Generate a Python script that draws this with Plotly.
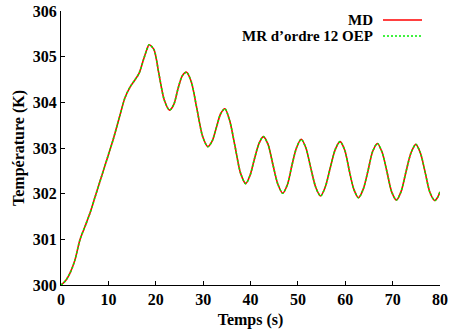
import plotly.graph_objects as go

# Data
temps = [0, 1, 1.9, 2.95, 4.0, 5.06, 6.1, 7.2, 8.2, 9.3, 10.3, 11.0, 12.4, 13.5, 14.6, 15.6, 16.5, 17.4, 18.1,
         18.6, 19.6, 20.7, 21.8, 22.9,
         23.8, 24.7, 25.6, 26.5,
         27.5, 28.7, 29.9, 31.0,
         31.9, 32.8, 33.7, 34.6,
         35.6, 36.8, 37.9, 39.0,
         39.9, 40.8, 41.8, 42.7,
         43.7, 44.7, 45.8, 46.8,
         47.8, 48.7, 49.7, 50.7,
         51.7, 52.7, 53.8, 54.8,
         55.8, 56.8, 57.9, 58.9,
         59.9, 60.8, 61.8, 62.8,
         63.8, 64.8, 65.8, 66.8,
         67.8, 68.8, 69.8, 70.8,
         71.8, 72.8, 73.9, 74.9,
         75.9, 76.9, 77.9, 78.9,
         79.5, 80]
temp_md = [300, 300.1, 300.26, 300.55, 300.99, 301.28, 301.57, 301.93, 302.26, 302.62, 302.95, 303.18, 303.7, 304.1, 304.34, 304.49, 304.64, 304.93, 305.15,
           305.26, 305.16, 304.6, 304.05, 303.83,
           303.95, 304.3, 304.58, 304.66,
           304.45, 303.85, 303.25, 303.03,
           303.15, 303.45, 303.75, 303.86,
           303.6, 303.0, 302.45, 302.22,
           302.4, 302.75, 303.1, 303.25,
           303.08, 302.65, 302.2, 302.01,
           302.2, 302.6, 303.0, 303.19,
           303.0, 302.57, 302.13, 301.95,
           302.15, 302.55, 302.97, 303.14,
           302.95, 302.53, 302.1, 301.91,
           302.1, 302.5, 302.93, 303.10,
           302.9, 302.48, 302.04, 301.86,
           302.05, 302.47, 302.9, 303.08,
           302.88, 302.45, 302.02, 301.85,
           301.92, 302.04]
temp_mr = list(temp_md)  # reduced model overlaps the reference curve

series_names = ["MD", "MR d\u2019ordre 12 OEP"]
x_ticks = [0, 10, 20, 30, 40, 50, 60, 70, 80]
y_ticks = [300, 301, 302, 303, 304, 305, 306]

FONT = dict(family="Liberation Serif", size=16, color="black", weight="bold")
LEG_FONT = dict(family="Liberation Serif", size=15, color="black", weight="bold")

fig = go.Figure()
fig.add_trace(go.Scatter(x=temps, y=temp_md, mode="lines", name=series_names[0],
                         line=dict(color="#ff0000", width=1.6, shape="spline", smoothing=0.8),
                         showlegend=False))
fig.add_trace(go.Scatter(x=temps, y=temp_mr, mode="lines", name=series_names[1],
                         line=dict(color="#00ee00", width=1.6, dash="2px,2px", shape="spline", smoothing=0.8),
                         showlegend=False))

# Legend drawn manually (text right-aligned, line sample to the right)
legend_y = [0.967, 0.909]
legend_cols = ["#ff0000", "#00ee00"]
legend_dash = ["solid", "2px,2px"]
for name, yy, col, dsh in zip(series_names, legend_y, legend_cols, legend_dash):
    fig.add_annotation(x=0.826, y=yy, xref="paper", yref="paper", text=name,
                       showarrow=False, xanchor="right", yanchor="middle", font=LEG_FONT,
                       borderpad=0)
    fig.add_shape(type="line", xref="paper", yref="paper", x0=0.8496, x1=0.9525, y0=yy, y1=yy,
                  line=dict(color=col, width=1.6, dash=dsh))

fig.update_layout(
    width=449, height=330,
    margin=dict(l=61, r=9, t=11, b=45, autoexpand=False),
    paper_bgcolor="white", plot_bgcolor="white",
    font=FONT,
    xaxis=dict(range=[0, 80], tickvals=x_ticks, ticks="inside", ticklen=4, tickwidth=1,
               tickcolor="black", showline=True, linecolor="black", linewidth=1.2,
               showgrid=False, zeroline=False, mirror=False, automargin=False,
               title=dict(text="Temps (s)", font=FONT, standoff=6)),
    yaxis=dict(range=[300, 306], tickvals=y_ticks, ticks="inside", ticklen=4, tickwidth=1,
               tickcolor="black", showline=True, linecolor="black", linewidth=1.2,
               showgrid=False, zeroline=False, mirror=False, automargin=False,
               title=dict(text="Température (K)", font=FONT, standoff=4)),
)

fig.write_html("out.html")
